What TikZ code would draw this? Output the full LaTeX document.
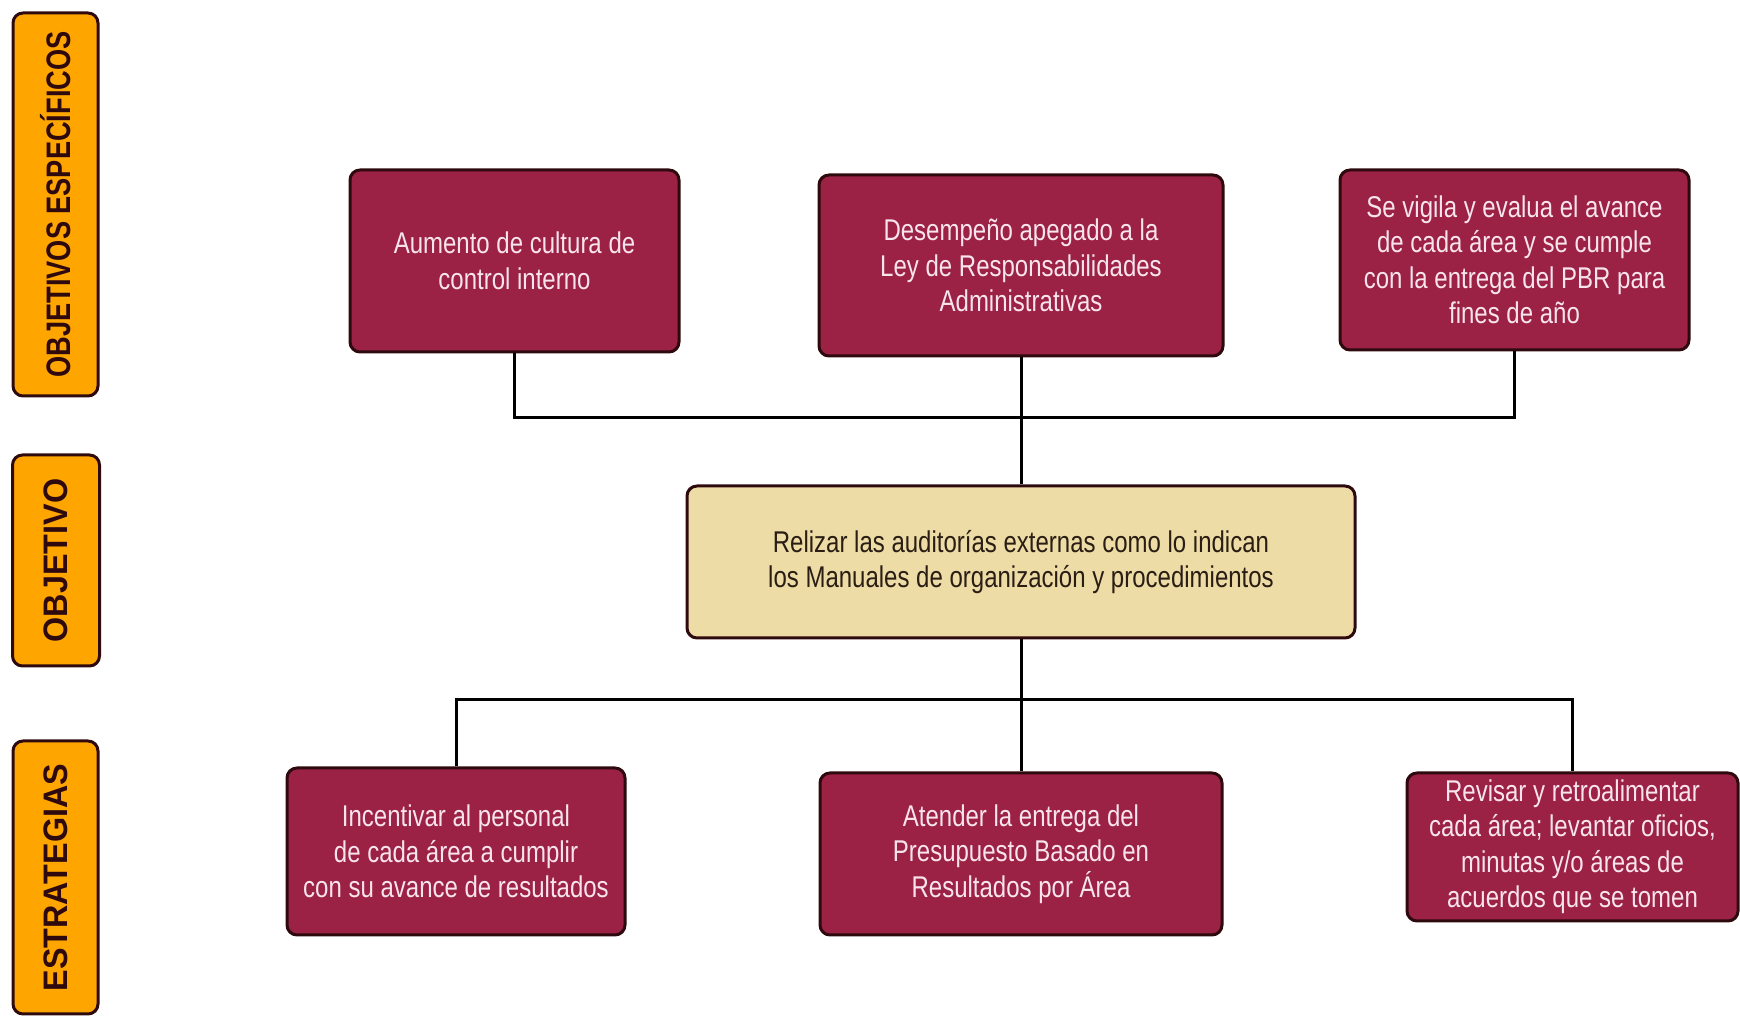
\documentclass[tikz,border=0pt]{standalone}
\usepackage{fontspec}
\setmainfont{Liberation Sans}
\newfontfamily\boxfont{Liberation Sans}[FakeStretch=0.8]
\newfontfamily\tagfont{Liberation Sans}[FakeStretch=0.95]
\newfontfamily\tagfontnarrow{Liberation Sans}[FakeStretch=0.8]
\usetikzlibrary{positioning}
\definecolor{wine}{HTML}{9B2145}
\definecolor{winedark}{HTML}{2E0A0E}
\definecolor{sand}{HTML}{EDDCA6}
\definecolor{tagorange}{HTML}{FFA500}
\definecolor{pinktext}{HTML}{F8E4EC}
\definecolor{inkbrown}{HTML}{2A1E14}
\tikzset{goalbox/.style={draw=winedark,fill=wine,line width=3pt,rounded corners=10pt,text=pinktext,align=center,font=\boxfont\fontsize{30}{35.5}\selectfont}, mainbox/.style={goalbox,fill=sand,text=inkbrown}, sidetag/.style={draw=winedark,fill=tagorange,line width=3pt,rounded corners=10pt,rotate=90,text=winedark,font=\tagfont\bfseries\fontsize{34}{40}\selectfont}, joinline/.style={line width=3pt,black}}

\begin{document}
\begin{tikzpicture}[x=1pt,y=1pt]
\useasboundingbox (0,0) rectangle (1740,1016);
% side tags
\node[sidetag,minimum width=383,minimum height=85,font=\tagfontnarrow\bfseries\fontsize{34}{40}\selectfont] (tagA) at (55.5,811.5) {OBJETIVOS ESPECÍFICOS};
\node[sidetag,minimum width=211,minimum height=87] (tagB) at (56,455.5) {OBJETIVO};
\node[sidetag,minimum width=273,minimum height=85] (tagC) at (55.5,138.5) {ESTRATEGIAS};
% specific objectives
\node[goalbox,minimum width=329,minimum height=182] (A1) at (514.5,755) {Aumento de cultura de\\control interno};
\node[goalbox,minimum width=404,minimum height=181] (A2) at (1021,750.5) {Desempeño apegado a la\\Ley de Responsabilidades\\Administrativas};
\node[goalbox,minimum width=349,minimum height=180] (A3) at (1514.5,756) {Se vigila y evalua el avance\\de cada área y se cumple\\con la entrega del PBR para\\fines de año};
% objective
\node[mainbox,minimum width=668,minimum height=152] (Obj) at (1021,454) {Relizar las auditorías externas como lo indican\\los Manuales de organización y procedimientos};
% strategies
\node[goalbox,minimum width=338,minimum height=167] (B1) at (456,164.5) {Incentivar al personal\\de cada área a cumplir\\con su avance de resultados};
\node[goalbox,minimum width=402,minimum height=162] (B2) at (1021,162) {Atender la entrega del\\Presupuesto Basado en\\Resultados por Área};
\node[goalbox,minimum width=331,minimum height=148] (B3) at (1572.5,169) {Revisar y retroalimentar\\cada área; levantar oficios,\\minutas y/o áreas de\\acuerdos que se tomen};
% connectors
\coordinate (jt) at (1021,598);
\coordinate (jb) at (1021,316);
\draw[joinline] (A1.south) |- (jt) -| (A3.south);
\draw[joinline] (A2.south) -- (Obj.north);
\draw[joinline] (B1.north) |- (jb) -| (B3.north);
\draw[joinline] (Obj.south) -- (B2.north);
\end{tikzpicture}
\end{document}
